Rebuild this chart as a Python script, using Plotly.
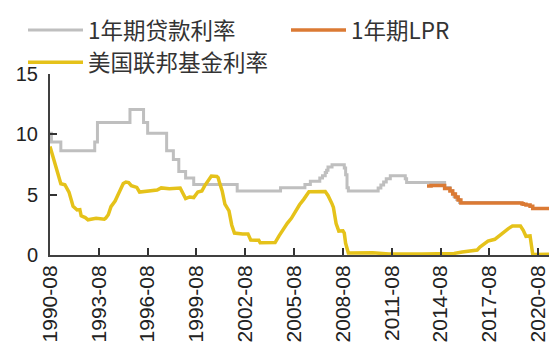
import plotly.graph_objects as go

# China 1-year benchmark lending rate: adjustment months and new levels (%)
loan_dates = [
    "1990-08", "1990-09", "1991-04", "1993-05", "1993-07", "1995-07", "1996-05",
    "1996-08", "1997-10", "1998-03", "1998-07", "1998-12", "1999-06", "2002-02",
    "2004-10", "2006-04", "2006-08", "2007-03", "2007-05", "2007-07", "2007-08",
    "2007-09", "2007-12", "2008-09", "2008-10", "2008-11", "2008-12", "2010-10",
    "2010-12", "2011-02", "2011-04", "2011-07", "2012-06", "2012-07", "2014-11",
    "2015-03", "2015-05", "2015-06", "2015-08", "2015-10", "2019-07",
]
loan_rate = [
    10.08, 9.36, 8.64, 9.36, 10.98, 12.06, 10.98,
    10.08, 8.64, 7.92, 6.93, 6.39, 5.85, 5.31,
    5.58, 5.85, 6.12, 6.39, 6.57, 6.84, 7.02,
    7.29, 7.47, 7.20, 6.66, 5.58, 5.31, 5.56,
    5.81, 6.06, 6.31, 6.56, 6.31, 6.00, 5.60,
    5.35, 5.10, 4.85, 4.60, 4.35, 4.35,
]

# 1-year loan prime rate (%)
lpr_dates = [
    "2013-10", "2014-01", "2014-11", "2015-03", "2015-05", "2015-07", "2015-09",
    "2015-11", "2019-08", "2019-09", "2019-11", "2020-02", "2020-04", "2021-04",
]
lpr_rate = [
    5.71, 5.77, 5.51, 5.30, 5.06, 4.81, 4.56,
    4.31, 4.25, 4.20, 4.15, 4.05, 3.85, 3.85,
]

# US effective federal funds rate (%)
fed_dates = [
    "1990-08", "1990-12", "1991-01", "1991-04", "1991-07", "1991-10", "1991-12",
    "1992-01", "1992-04", "1992-06", "1992-07", "1992-10", "1992-12", "1993-06",
    "1993-12", "1994-01", "1994-03", "1994-05", "1994-08", "1994-11", "1995-02",
    "1995-04", "1995-06", "1995-08", "1995-12", "1996-02", "1996-06", "1996-12",
    "1997-03", "1997-06", "1997-12", "1998-08", "1998-10", "1998-12", "1999-03",
    "1999-06", "1999-09", "1999-12", "2000-02", "2000-05", "2000-07", "2000-11",
    "2000-12", "2001-01", "2001-03", "2001-05", "2001-08", "2001-10", "2001-12",
    "2002-06", "2002-10", "2002-12", "2003-06", "2003-07", "2004-06", "2004-09",
    "2004-12", "2005-03", "2005-06", "2005-09", "2005-12", "2006-03", "2006-07",
    "2007-07", "2007-09", "2007-12", "2008-01", "2008-03", "2008-05", "2008-08",
    "2008-09", "2008-10", "2008-11", "2008-12", "2010-06", "2011-06", "2013-06",
    "2015-06", "2015-12", "2016-11", "2017-01", "2017-04", "2017-07", "2017-12",
    "2018-04", "2018-07", "2018-10", "2019-01", "2019-07", "2019-09", "2019-11",
    "2020-02", "2020-03", "2020-04", "2021-04",
]
fed_rate = [
    9.00, 7.31, 6.91, 5.91, 5.82, 5.21, 4.43,
    4.03, 3.73, 3.76, 3.25, 3.10, 2.92, 3.04,
    2.96, 3.05, 3.34, 4.01, 4.47, 5.29, 5.92,
    6.05, 6.00, 5.74, 5.60, 5.22, 5.27, 5.29,
    5.39, 5.56, 5.50, 5.55, 5.07, 4.68, 4.81,
    4.76, 5.22, 5.30, 5.73, 6.27, 6.54, 6.51,
    6.40, 5.98, 5.31, 4.21, 3.65, 2.49, 1.82,
    1.75, 1.75, 1.24, 1.22, 1.01, 1.03, 1.61,
    2.16, 2.63, 3.04, 3.62, 4.16, 4.59, 5.24,
    5.26, 4.94, 4.24, 3.94, 2.61, 1.98, 2.00,
    1.81, 0.97, 0.39, 0.16, 0.18, 0.09, 0.09,
    0.13, 0.24, 0.41, 0.65, 0.90, 1.15, 1.30,
    1.69, 1.91, 2.19, 2.40, 2.40, 2.04, 1.55,
    1.58, 0.65, 0.05, 0.07,
]

tick_dates = ["1990-08-01", "1993-08-01", "1996-08-01", "1999-08-01", "2002-08-01",
              "2005-08-01", "2008-08-01", "2011-08-01", "2014-08-01", "2017-08-01",
              "2020-08-01"]
tick_labels = ["1990-08", "1993-08", "1996-08", "1999-08", "2002-08", "2005-08",
               "2008-08", "2011-08", "2014-08", "2017-08", "2020-08"]

fig = go.Figure()
fig.add_trace(go.Scatter(x=loan_dates, y=loan_rate, name="1年期贷款利率",
                         mode="lines", line=dict(color="#BFBFBF", width=3, shape="hv")))
fig.add_trace(go.Scatter(x=lpr_dates, y=lpr_rate, name="1年期LPR",
                         mode="lines", line=dict(color="#DB7A34", width=3.5, shape="hv")))
fig.add_trace(go.Scatter(x=fed_dates, y=fed_rate, name="美国联邦基金利率",
                         mode="lines", line=dict(color="#E5C21A", width=3.5)))

fig.update_layout(
    width=549, height=356,
    margin=dict(l=50, r=0, t=74, b=101),
    paper_bgcolor="white", plot_bgcolor="white",
    font=dict(family="Liberation Sans, Arial, sans-serif", color="#333333"),
    showlegend=True,
    legend=dict(
        orientation="h", x=-0.036, y=1.36, xanchor="left", yanchor="top",
        font=dict(family="Noto Sans CJK SC", size=22.5, color="#333333"),
        entrywidth=193, entrywidthmode="pixels", itemwidth=55,
        bgcolor="rgba(0,0,0,0)", tracegroupgap=0,
    ),
    xaxis=dict(
        type="date", range=["1990-08-01", "2021-04-01"],
        tickvals=tick_dates, ticktext=tick_labels, tickangle=-90,
        ticks="inside", ticklen=7, tickwidth=2, tickcolor="#333333",
        showline=True, linecolor="#404040", linewidth=2,
        showgrid=False, zeroline=False,
        tickfont=dict(size=21, color="#222222"),
    ),
    yaxis=dict(
        range=[0, 15], tickvals=[0, 5, 10, 15],
        ticks="inside", ticklen=7, tickwidth=2, tickcolor="#333333",
        showline=True, linecolor="#404040", linewidth=2,
        showgrid=False, zeroline=False,
        tickfont=dict(size=20, color="#222222"), ticklabelstandoff=6,
    ),
)

fig.write_html("out.html")
